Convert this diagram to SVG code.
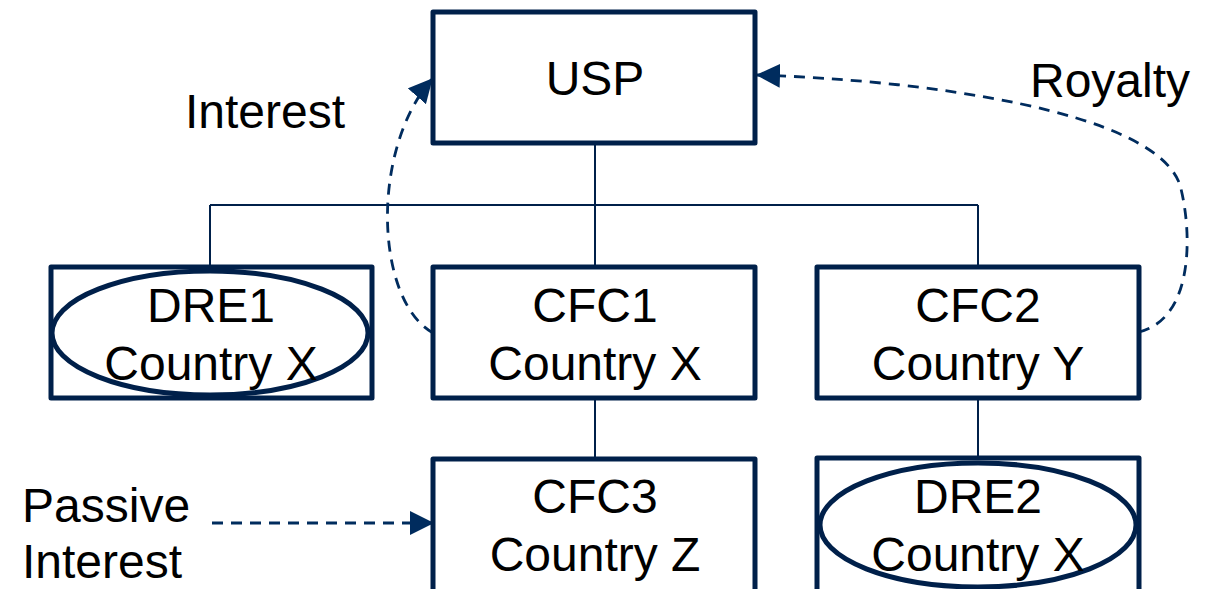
<svg xmlns="http://www.w3.org/2000/svg" width="1213" height="589" viewBox="0 0 1213 589">
<style>
.box{fill:#fff;stroke:#00204a;stroke-width:5;stroke-linejoin:round}
.ell{fill:none;stroke:#00204a;stroke-width:5}
.ln{stroke:#00204a;stroke-width:2;fill:none}
.dash{stroke:#002c5e;stroke-width:2.8;fill:none;stroke-dasharray:11 8}
text{font-family:"Liberation Sans",Arial,sans-serif;font-size:48px;fill:#000}
.c{text-anchor:middle}
</style>
<defs>
<marker id="ahb" viewBox="0 0 24 24" refX="23" refY="12" markerWidth="24" markerHeight="24" orient="auto" markerUnits="userSpaceOnUse">
<path d="M0,0 L24,12 L0,24 z" fill="#002c5e"/>
</marker>
</defs>
<g id="connectors">
<path class="ln" d="M595 143 V205 M210 205 H978 M210 205 V267 M595 205 V267 M978 205 V267 M595 398 V459 M978 398 V458"/>
<path class="dash" d="M433 333 C375 300 370 150 432 79" marker-end="url(#ahb)"/>
<path class="dash" d="M1139 332 C1195 318 1192 230 1180 185 C1155 110 920 80 757 75" marker-end="url(#ahb)"/>
<path class="dash" d="M212 523 H433" marker-end="url(#ahb)"/>
</g>
<g id="usp"><rect class="box" x="433" y="12" width="322" height="131"/><text class="c" x="595" y="95">USP</text></g>
<g id="dre1"><rect class="box" x="51" y="267" width="321" height="131"/><ellipse class="ell" cx="210" cy="333" rx="158" ry="62"/><text class="c" x="211" y="322">DRE1</text><text class="c" x="211" y="380">Country X</text></g>
<g id="cfc1"><rect class="box" x="433" y="267" width="322" height="131"/><text class="c" x="595" y="322">CFC1</text><text class="c" x="595" y="380">Country X</text></g>
<g id="cfc2"><rect class="box" x="817" y="267" width="322" height="131"/><text class="c" x="978" y="322">CFC2</text><text class="c" x="978" y="380">Country Y</text></g>
<g id="cfc3"><rect class="box" x="433" y="459" width="322" height="140"/><text class="c" x="595" y="513">CFC3</text><text class="c" x="595" y="571">Country Z</text></g>
<g id="dre2"><rect class="box" x="817" y="458" width="322" height="140"/><ellipse class="ell" cx="978" cy="525" rx="158" ry="62"/><text class="c" x="978" y="513">DRE2</text><text class="c" x="978" y="571">Country X</text></g>
<g id="labels">
<text x="185" y="128">Interest</text>
<text x="1030" y="97">Royalty</text>
<text x="22" y="522">Passive</text>
<text x="22" y="578">Interest</text>
</g>
</svg>
